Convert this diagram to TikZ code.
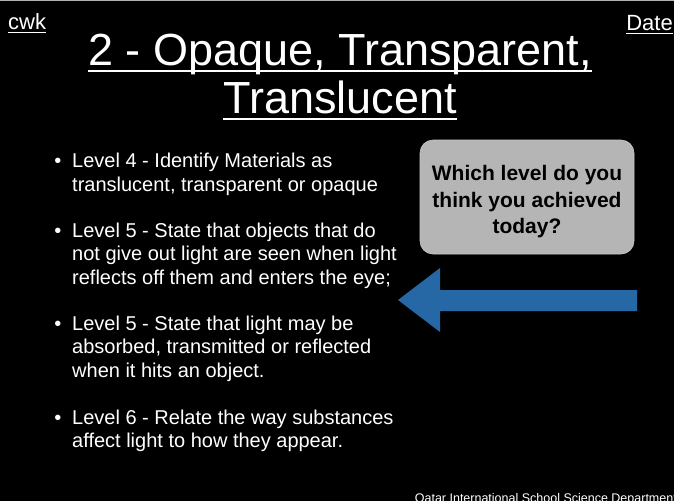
\documentclass[tikz,border=0pt]{standalone}
\usepackage{fontspec}
\setmainfont{Liberation Sans}
\definecolor{boxgray}{RGB}{181,181,181}
\definecolor{boxedge}{RGB}{200,200,200}
\definecolor{arrowblue}{RGB}{38,103,165}
\tikzset{
  txt/.style={text=white, inner sep=0pt, anchor=base west, font=\fontsize{20}{24}\selectfont},
  bul/.style={text=white, inner sep=0pt, anchor=base, font=\fontsize{20}{24}\selectfont},
  ttl/.style={text=white, inner sep=0pt, anchor=base, font=\fontsize{45}{50}\selectfont},
  corner/.style={text=white, inner sep=0pt, font=\fontsize{22}{24}\selectfont},
  uline/.style={white, line width=1.4pt},
  qtext/.style={text=black, inner sep=0pt, anchor=base, font=\bfseries\fontsize{21}{25}\selectfont}
}
\begin{document}
\begin{tikzpicture}[x=1pt,y=-1pt]
\fill[black] (0,0) rectangle (674,501);
\useasboundingbox (0,0) rectangle (674,501);
\draw[gray!60, line width=1pt] (0,0.5) -- (674,0.5);
% corner labels
\node[corner, anchor=base west] (cwk) at (8,29) {cwk};
\draw[uline, line width=1pt] ([yshift=-3pt]cwk.base west) -- ([yshift=-3pt]cwk.base east);
\node[corner, anchor=base east] (date) at (673,30) {Date};
\draw[uline, line width=1pt] ([yshift=-3pt]date.base west) -- ([yshift=-3pt]date.base east);
% title
\node[ttl] (t1) at (340,65) {2 - Opaque, Transparent,};
\draw[uline] ([yshift=-6pt]t1.base west) -- ([yshift=-6pt]t1.base east);
\node[ttl] (t2) at (340,113) {Translucent};
\draw[uline] ([yshift=-6pt]t2.base west) -- ([yshift=-6pt]t2.base east);
% bullets
\node[bul] (b1) at (58,167) {•};
\node[txt] (l11) at (72,167) {Level 4 - Identify Materials as};
\node[txt] (l12) at (72,191) {translucent, transparent or opaque};
\node[bul] (b2) at (58,237) {•};
\node[txt] (l21) at (72,237) {Level 5 - State that objects that do};
\node[txt] (l22) at (72,260.5) {not give out light are seen when light};
\node[txt] (l23) at (72,284) {reflects off them and enters the eye;};
\node[bul] (b3) at (58,330) {•};
\node[txt] (l31) at (72,330) {Level 5 - State that light may be};
\node[txt] (l32) at (72,353.5) {absorbed, transmitted or reflected};
\node[txt] (l33) at (72,377) {when it hits an object.};
\node[bul] (b4) at (58,424) {•};
\node[txt] (l41) at (72,424) {Level 6 - Relate the way substances};
\node[txt] (l42) at (72,447) {affect light to how they appear.};
% question box
\draw[fill=boxgray, draw=boxedge, line width=0.6pt, rounded corners=13pt] (420,140) rectangle (634,254);
\node[qtext] (q1) at (527,180) {Which level do you};
\node[qtext] (q2) at (527,207) {think you achieved};
\node[qtext] (q3) at (527,233) {today?};
% arrow
\fill[arrowblue] (637,290) -- (440,290) -- (440,268) -- (398,300) -- (440,332) -- (440,311) -- (637,311) -- cycle;
% footer
\begin{scope}
\clip (0,0) rectangle (674,501);
\node[text=white, inner sep=0pt, anchor=base east, font=\fontsize{12.5}{14}\selectfont] (foot) at (677,502) {Qatar International School Science Department};
\end{scope}
\end{tikzpicture}
\end{document}
